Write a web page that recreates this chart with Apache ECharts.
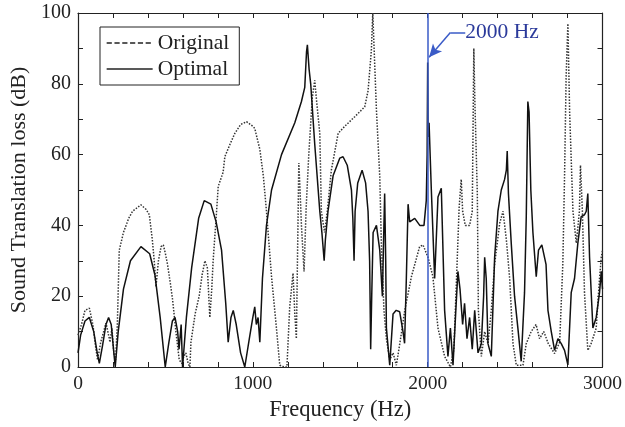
<!DOCTYPE html>
<html><head><meta charset="utf-8">
<script src="https://cdn.jsdelivr.net/npm/echarts@6/dist/echarts.min.js"></script>
<style>html,body{margin:0;padding:0;background:#fff}#c{width:625px;height:427px}</style>
</head><body><div id="c"></div>
<script>
// Optimal (solid)
const optX = [0,15,40,65,90,110,122,140,160,175,190,205,213,230,260,300,360,410,440,470,499,520,540,555,570,578,590,598,620,650,690,722,760,790,821,845,859,875,888,905,930,954,980,1000,1011,1020,1030,1040,1055,1078,1107,1164,1240,1278,1297,1307,1312,1322,1331,1354,1383,1395,1408,1415,1430,1459,1497,1516,1540,1564,1572,1579,1585,1600,1625,1645,1659,1668,1674,1680,1688,1707,1726,1741,1748,1754,1760,1764,1783,1802,1820,1840,1859,1868,1878,1888,1897,1926,1955,1979,1992,1997,2000,2003,2008,2021,2040,2059,2078,2097,2116,2130,2145,2160,2173,2185,2200,2211,2225,2240,2255,2269,2288,2307,2320,2326,2335,2345,2364,2383,2402,2421,2440,2450,2455,2462,2478,2497,2516,2535,2554,2564,2573,2580,2590,2602,2621,2634,2653,2677,2688,2707,2726,2745,2764,2783,2802,2821,2840,2859,2878,2897,2907,2916,2926,2945,2964,2983,2993,3000];
const optY = [4,9,13,14,10,4,1,6,12,14,12,4,0,10,22,30,34,32,26,14,0,7,13,14,10,5,12,0,14,28,42,47,46,41,33,18,7,14,16,12,4,0,8,14,17,12,14,7,25,40,50,60,69,75,79,89,91,84,80,63,44,38,30,36,44,54,59,59.4,57,50,42,30,44,52,55.6,52,44,30,5,20,38,40,33,20,36,49,30,11,0.5,15,16,15.6,10,6.7,25,46,41,42,40,40,47,60,86,65,69,50,25,48,50.5,16,3,11,0.5,15,27,22,12,18,8,14,5,16,4,6.6,20,31,25,6.6,3,31,44,50,53,55.6,61,49,35,20,11,1.6,21,42.5,75,72,50,38,25.5,33,34.5,29,16,10,4.7,8,6.6,4.7,0.6,21,25,35,42.5,43,44,49,31,11,14,21,27,22];
// Original (dotted)
const origX = [0,20,40,65,85,100,112,130,160,175,183,194,205,215,225,236,260,290,312,360,390,408,425,436,446,460,475,488,500,512,530,541,560,579,595,605,617,630,640,646,670,693,710,726,740,754,765,773,792,802,830,840,870,897,930,964,1000,1011,1040,1060,1078,1107,1135,1154,1180,1195,1211,1230,1240,1249,1263,1270,1278,1293,1305,1320,1340,1354,1365,1383,1392,1410,1426,1449,1488,1526,1583,1640,1659,1678,1686,1695,1707,1726,1735,1750,1764,1783,1802,1821,1845,1869,1907,1954,1973,2002,2030,2059,2097,2130,2150,2164,2180,2192,2200,2215,2240,2255,2264,2270,2284,2290,2307,2326,2345,2364,2383,2412,2431,2450,2469,2488,2507,2545,2564,2592,2620,2640,2664,2690,2726,2755,2773,2783,2792,2802,2812,2831,2850,2868,2874,2885,2897,2916,2935,2964,2983,2993,3000];
const origY = [9,12,16,16.6,12,6,2,7,12.4,9,7,11,4,2,12,33,38,42,44,45.8,44.5,43,36,30,22.7,30,34,34.5,32,29,23,19,10,2,1,3,4,1,0,7,15,20,26,30,28,14,22,30,43.5,51,55,59.4,63,66,68.5,69.3,68,67.4,61.5,54,44,25.5,11,0.5,0,0,17,26.5,15,8,57.6,50,40,27,45,60,76,81,75,66,44,38,44,55.6,66,68,70.7,73.5,78,89.5,100,100,72.6,53.8,35,16,8,2,4,0.5,8,16,25.5,34,34.5,31,25.5,11,3,0,5,23.6,45,53,44,40,40,44,90,75,49,16,3,10,6.6,16,29,40.6,44,36,25,6.6,0.5,0.5,6.6,10,12,8,10,6.6,3.8,7,29,54,82,97,72,44,35,44,57,44,21,4.7,6.6,11,25,31,33];
const xTicks = [0,1000,2000,3000];
const yTicks = [0,20,40,60,80,100];
const markFreq = 2000;
const markLabel = '2000 Hz';
const seriesNames = ['Original','Optimal'];

const pairs = (xs, ys) => xs.map((x,i)=>[x, ys[i]]);
const font = 'Liberation Serif';
const chart = echarts.init(document.getElementById('c'));
const axBase = {
  type:'value', min:0, max:3000, interval:200,
  axisLine:{show:true,onZero:false,lineStyle:{color:'#222',width:1.2}},
  axisTick:{show:true,inside:true,length:5,lineStyle:{color:'#222'}},
  splitLine:{show:false}
};
const ayBase = {
  type:'value', min:0, max:100, interval:10,
  axisLine:{show:true,onZero:false,lineStyle:{color:'#222',width:1.2}},
  axisTick:{show:true,inside:true,length:5,lineStyle:{color:'#222'}},
  splitLine:{show:false}
};
const blue = '#3a5bc7';
chart.setOption({
  animation:false,
  backgroundColor:'#fff',
  grid:{left:78,right:22,top:13,bottom:60},
  legend:{
    orient:'vertical', left:100, top:27,
    borderColor:'#222', borderWidth:1, padding:[5,10,5,6], itemGap:4,
    itemWidth:46, itemHeight:12,
    itemStyle:{opacity:0},
    textStyle:{fontFamily:font,fontSize:21.5,color:'#222'},
    data:[
      {name:seriesNames[0], itemStyle:{opacity:0}, lineStyle:{type:'dashed',width:1.3,color:'#222'}},
      {name:seriesNames[1], itemStyle:{opacity:0}, lineStyle:{type:'solid',width:1.3,color:'#222'}}
    ]
  },
  xAxis:[
    Object.assign({}, axBase, {position:'bottom',
      name:'Frequency (Hz)', nameLocation:'middle', nameGap:29,
      nameTextStyle:{fontFamily:font,fontSize:22.5,color:'#222'},
      axisLabel:{margin:7,fontFamily:font,fontSize:19.5,color:'#222',
        formatter:v=>xTicks.includes(v)?String(v):''}}),
    Object.assign({}, axBase, {position:'top', axisLabel:{show:false}})
  ],
  yAxis:[
    Object.assign({}, ayBase, {position:'left',
      name:'Sound Translation loss (dB)', nameLocation:'middle', nameGap:48,
      nameTextStyle:{fontFamily:font,fontSize:22,color:'#222'},
      axisLabel:{margin:7,fontFamily:font,fontSize:20,color:'#222',
        formatter:v=>yTicks.includes(v)?String(v):''}}),
    Object.assign({}, ayBase, {position:'right', axisLabel:{show:false}})
  ],
  series:[
    {name:seriesNames[0], type:'line', data:pairs(origX,origY), symbol:'none', clip:true,
     lineStyle:{type:'dotted',width:1.5,color:'#333'}, itemStyle:{color:'#333'}, z:2},
    {name:seriesNames[1], type:'line', data:pairs(optX,optY), symbol:'none', clip:true,
     lineStyle:{type:'solid',width:1.5,color:'#111'}, itemStyle:{color:'#111'}, z:3},
    {type:'line', data:[], z:4,
     markLine:{silent:true, symbol:['none','none'], label:{show:false},
       lineStyle:{color:blue,width:1.5,type:'solid'},
       data:[{xAxis:markFreq}]}},
    {type:'line', data:[], z:5,
     markLine:{silent:true, symbol:['none','none'], label:{show:false},
       lineStyle:{color:blue,width:1.5,type:'solid'},
       data:[[{coord:[2215,94.5]},{coord:[2130,94.5]}]]}},
    {type:'line', data:[], z:5,
     markLine:{silent:true, symbol:['none','arrow'], symbolSize:[9,13], label:{show:false},
       lineStyle:{color:blue,width:1.5,type:'solid',curveness:0.3},
       data:[[{coord:[2130,94.5]},{coord:[2008,87.5]}]]},
     markPoint:{silent:true, symbol:'circle', symbolSize:0,
       label:{show:true, formatter:markLabel, position:'right', distance:0,
         fontFamily:font, fontSize:21.5, color:'#2b3a9b'},
       data:[{coord:[2215,94.5]}]}}
  ]
});
</script></body></html>
